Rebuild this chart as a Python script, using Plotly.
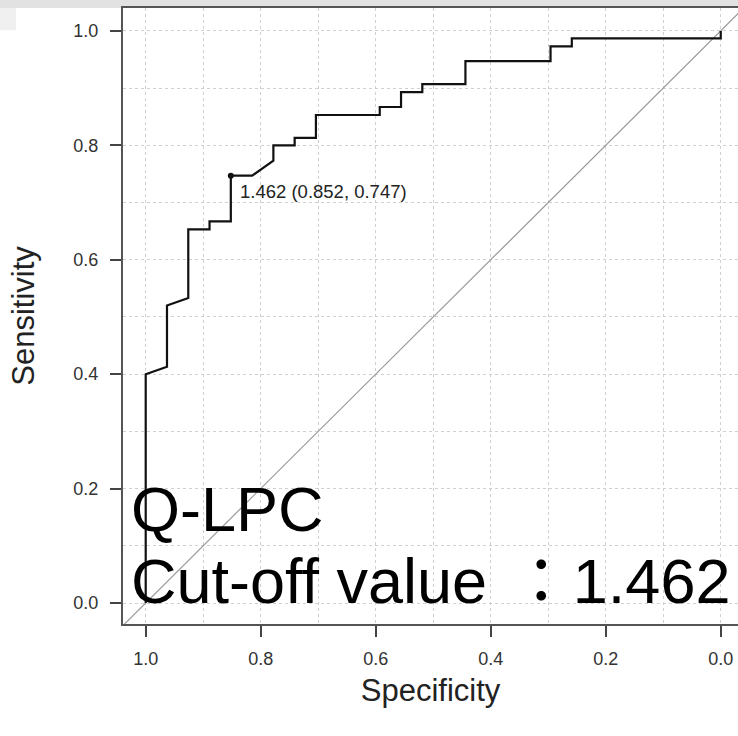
import plotly.graph_objects as go

# ROC curve (specificity reversed on x)
specificity = [1.000, 1.000, 0.963, 0.963, 0.926, 0.926, 0.889, 0.889, 0.852, 0.852,
               0.815, 0.778, 0.778, 0.741, 0.741, 0.704, 0.704, 0.593, 0.593, 0.556,
               0.556, 0.519, 0.519, 0.444, 0.444, 0.296, 0.296, 0.259, 0.259, 0.000, 0.000]
sensitivity = [0.000, 0.400, 0.413, 0.520, 0.533, 0.653, 0.653, 0.667, 0.667, 0.747,
               0.747, 0.773, 0.800, 0.800, 0.813, 0.813, 0.853, 0.853, 0.867, 0.867,
               0.893, 0.893, 0.907, 0.907, 0.947, 0.947, 0.973, 0.973, 0.987, 0.987, 1.000]

best_threshold = 1.462
best_spec = 0.852
best_sens = 0.747

tick_values = [1.0, 0.8, 0.6, 0.4, 0.2, 0.0]
tick_labels = ["1.0", "0.8", "0.6", "0.4", "0.2", "0.0"]

x_range = [1.0395, -0.030]
y_range = [-0.0367, 1.040]

FONT = "Liberation Sans, Arial, Noto Sans CJK JP, sans-serif"

fig = go.Figure()

# chance diagonal (sens = 1 - spec), spanning the plotting region
diag_x = [x_range[0] + 0.1, x_range[1] - 0.1]
diag_y = [1 - v for v in diag_x]
fig.add_trace(go.Scatter(x=diag_x, y=diag_y, mode="lines",
                         line=dict(color="#9a9a9a", width=1.2),
                         hoverinfo="skip", showlegend=False))

fig.add_trace(go.Scatter(x=specificity, y=sensitivity, mode="lines",
                         line=dict(color="#111111", width=2.2),
                         showlegend=False))

fig.add_trace(go.Scatter(x=[best_spec], y=[best_sens], mode="markers",
                         marker=dict(color="#111111", size=6),
                         showlegend=False))

fig.add_annotation(x=best_spec, y=best_sens, xref="x", yref="y",
                   text=f"{best_threshold:.3f} ({best_spec:.3f}, {best_sens:.3f})",
                   showarrow=False, xanchor="left", yanchor="middle",
                   xshift=7, yshift=-16,
                   font=dict(family=FONT, size=18.5, color="#222222"))

# large overlay labels
fig.add_annotation(x=0.010, y=0.187, xref="paper", yref="paper",
                   text="Q-LPC", showarrow=False, xanchor="left", yanchor="middle",
                   font=dict(family=FONT, size=63, color="#000000"))
fig.add_annotation(x=0.010, y=0.069, xref="paper", yref="paper",
                   text="Cut-off value \u200a：1.462", showarrow=False,
                   xanchor="left", yanchor="middle",
                   font=dict(family=FONT, size=63, color="#000000"))

axis_common = dict(
    tickvals=tick_values, ticktext=tick_labels,
    ticks="outside", ticklen=11, tickwidth=1.5, tickcolor="#444444",
    tickfont=dict(family=FONT, size=18, color="#333333"),
    showline=True, linecolor="#555555", linewidth=2,
    showgrid=True, gridcolor="#d0d0d0", griddash="dot", gridwidth=1,
    zeroline=False,
    minor=dict(tick0=0, dtick=0.1, showgrid=True, gridcolor="#d0d0d0",
               griddash="dot", gridwidth=1, ticks=""),
)

fig.update_xaxes(range=x_range, mirror=True, ticklabelstandoff=6,
                 title=dict(text="Specificity", standoff=12,
                            font=dict(family=FONT, size=31, color="#222222")),
                 **axis_common)
fig.update_yaxes(range=y_range, mirror=False, ticklabelstandoff=8,
                 title=dict(text="Sensitivity", standoff=30,
                            font=dict(family=FONT, size=31, color="#222222")),
                 **axis_common)

# screenshot artefacts: grey band along the top and a pale patch at top-left
fig.add_shape(type="rect", xref="paper", yref="paper", x0=-0.3, x1=1.1, y0=1.0, y1=1.03,
              fillcolor="#e2e2e2", line=dict(width=0), layer="below")
fig.add_shape(type="rect", xref="paper", yref="paper", x0=-0.3, x1=-0.174, y0=0.964, y1=1.0,
              fillcolor="#f0f0f0", line=dict(width=0), layer="below")

fig.update_layout(
    width=738, height=736,
    margin=dict(l=123, r=0, t=8, b=112),
    paper_bgcolor="white", plot_bgcolor="white",
    font=dict(family=FONT),
)

fig.write_html("out.html")
